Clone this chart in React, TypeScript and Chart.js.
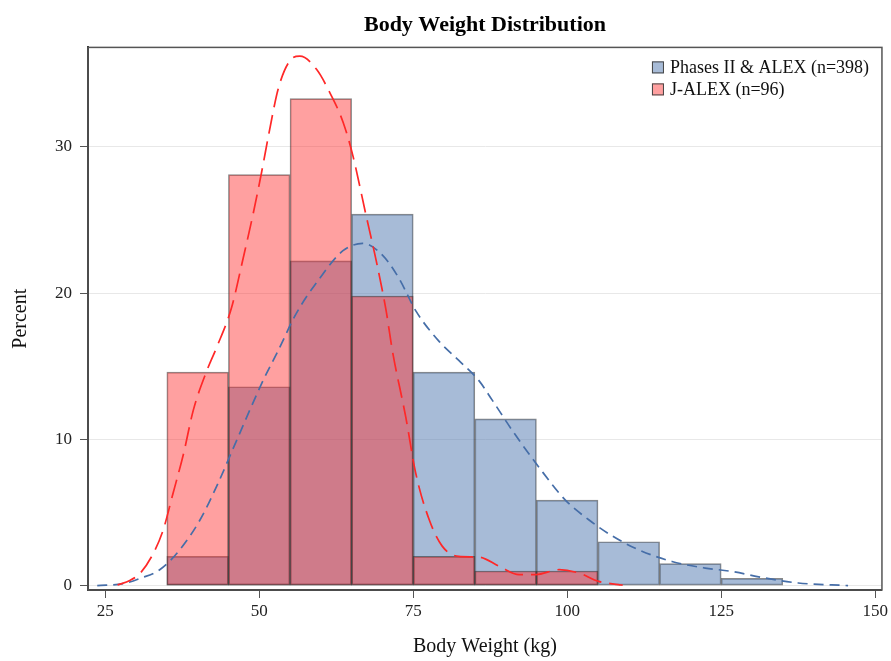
import React, { useEffect, useRef } from 'react';
import { Chart, registerables } from 'chart.js';

Chart.register(...registerables);

const chartTitle = 'Body Weight Distribution';
const xAxisTitle = 'Body Weight (kg)';
const yAxisTitle = 'Percent';
const seriesNames = ['Phases II & ALEX (n=398)', 'J-ALEX (n=96)'];

const xTicks = [25, 50, 75, 100, 125, 150];
const yTicks = [0, 10, 20, 30];

const phasesBinCenters = [40, 50, 60, 70, 80, 90, 100, 110, 120, 130];
const phasesPercent = [2.0, 13.6, 22.2, 25.4, 14.6, 11.4, 5.85, 3.0, 1.5, 0.5];

const jalexBinCenters = [40, 50, 60, 70, 80, 90, 100];
const jalexPercent = [14.6, 28.1, 33.3, 19.8, 2.0, 1.0, 1.0];

const phasesCurveX = [23.7, 28, 30.7, 33.9, 37.1, 40.4, 43.1, 46.3, 50.6, 53, 56, 59.8, 63.6, 66.8, 70, 72.7, 75.4, 79.2, 82.4, 85.7, 87.8, 91.1, 95.4, 99.7, 103.5, 107.3, 111.6, 117, 122.4, 126.7, 132.1, 137.5, 145.6];
const phasesCurveY = [0, 0.14, 0.5, 1.1, 2.45, 4.5, 6.8, 9.9, 14.0, 16.0, 18.6, 21.0, 22.9, 23.4, 22.6, 21.0, 18.8, 16.7, 15.4, 14.0, 12.7, 10.6, 8.1, 5.85, 4.5, 3.4, 2.45, 1.65, 1.2, 0.97, 0.52, 0.18, 0];

const jalexCurveX = [27, 29, 30.7, 32.8, 34.4, 36, 37.7, 39.3, 41.5, 43.1, 45.5, 47.4, 49, 50.4, 51.7, 53.1, 55, 56.6, 59.3, 61.7, 63.6, 65.2, 67.3, 69, 70.6, 71.6, 73.8, 75.4, 77.6, 79.7, 82.4, 85.7, 89, 92.2, 94.9, 98.7, 101.9, 105.1, 108.3, 109];
const jalexCurveY = [0.05, 0.35, 0.86, 2.2, 3.8, 6.3, 9.0, 12.0, 14.7, 16.3, 19.0, 22.4, 25.4, 28.3, 31.2, 34.0, 35.9, 36.2, 35.3, 33.5, 31.7, 29.4, 25.4, 22.2, 18.8, 16.1, 11.5, 7.7, 4.5, 2.7, 2.0, 1.95, 1.31, 0.75, 0.75, 1.09, 0.86, 0.29, 0.07, 0.03];

const FONT = "'Liberation Serif', 'Times New Roman', serif";
const BLUE_FILL = 'rgba(80,120,175,0.5)';
const RED_FILL = 'rgba(255,44,44,0.45)';
const BAR_BORDER = 'rgba(40,40,40,0.55)';
const BLUE_LINE = 'rgb(70,110,168)';
const RED_LINE = 'rgb(255,40,40)';

const legendFills = [BLUE_FILL, RED_FILL];

const frameAndLegend = {
  id: 'frameAndLegend',
  afterDraw(chart: any) {
    const { ctx, chartArea } = chart;
    ctx.save();
    ctx.strokeStyle = '#555';
    ctx.lineWidth = 1.5;
    ctx.strokeRect(chartArea.left, chartArea.top, chartArea.right - chartArea.left, chartArea.bottom - chartArea.top);
    ctx.font = `18px ${FONT}`;
    ctx.textBaseline = 'middle';
    ctx.textAlign = 'left';
    const sqX = chartArea.right - 230;
    const txtX = chartArea.right - 212;
    seriesNames.forEach((name, i) => {
      const cy = chartArea.top + 20 + i * 22;
      ctx.fillStyle = '#fff';
      ctx.fillRect(sqX, cy - 6, 12, 12);
      ctx.fillStyle = legendFills[i];
      ctx.fillRect(sqX, cy - 6, 12, 12);
      ctx.strokeStyle = '#444';
      ctx.lineWidth = 1;
      ctx.strokeRect(sqX + 0.5, cy - 5.5, 11, 11);
      ctx.fillStyle = '#111';
      ctx.fillText(name, txtX, cy + 1);
    });
    ctx.restore();
  },
};

export default function App() {
  const ref = useRef<HTMLCanvasElement | null>(null);
  useEffect(() => {
    if (!ref.current) return;
    const barCommon = {
      type: 'bar' as const,
      grouped: false,
      barPercentage: 1,
      categoryPercentage: 1,
      borderWidth: 1,
      borderColor: BAR_BORDER,
      borderSkipped: false,
    };
    const chart = new Chart(ref.current, {
      type: 'bar',
      data: {
        datasets: [
          {
            ...barCommon,
            label: seriesNames[0],
            data: phasesBinCenters.map((x, i) => ({ x, y: phasesPercent[i] })),
            backgroundColor: BLUE_FILL,
            order: 3,
          } as any,
          {
            ...barCommon,
            label: seriesNames[1],
            data: jalexBinCenters.map((x, i) => ({ x, y: jalexPercent[i] })),
            backgroundColor: RED_FILL,
            order: 2,
          } as any,
          {
            type: 'line',
            label: 'Phases density',
            data: phasesCurveX.map((x, i) => ({ x, y: phasesCurveY[i] })),
            borderColor: BLUE_LINE,
            borderWidth: 1.7,
            borderDash: [10, 6],
            pointRadius: 0,
            fill: false,
            cubicInterpolationMode: 'monotone',
            order: 1,
          } as any,
          {
            type: 'line',
            label: 'J-ALEX density',
            data: jalexCurveX.map((x, i) => ({ x, y: jalexCurveY[i] })),
            borderColor: RED_LINE,
            borderWidth: 1.7,
            borderDash: [19, 8],
            pointRadius: 0,
            fill: false,
            cubicInterpolationMode: 'monotone',
            order: 0,
          } as any,
        ],
      },
      options: {
        responsive: false,
        animation: false,
        layout: { padding: { left: 8, right: 7, top: 0, bottom: 0 } },
        plugins: {
          legend: { display: false },
          tooltip: { enabled: false },
          title: {
            display: true,
            text: chartTitle,
            fullSize: false,
            color: '#000',
            font: { family: FONT, size: 22, weight: 'bold' },
            padding: { top: 12, bottom: 9 },
          },
        },
        scales: {
          x: {
            type: 'linear',
            min: 22.2,
            max: 151.1,
            offset: false,
            afterBuildTicks: (s: any) => {
              s.ticks = xTicks.map((v) => ({ value: v }));
            },
            afterFit: (s: any) => {
              s.height = 71;
            },
            grid: { display: true, drawOnChartArea: false, drawTicks: true, tickLength: 8, tickColor: '#555', offset: false },
            border: { display: true, color: '#333', width: 2 },
            ticks: { color: '#222', font: { family: FONT, size: 17 }, padding: 3, maxRotation: 0, autoSkip: false, callback: (v: any) => String(v) },
            title: { display: true, text: xAxisTitle, color: '#111', font: { family: FONT, size: 20 }, padding: { top: 4, bottom: 2 } },
          },
          y: {
            type: 'linear',
            min: -0.3,
            max: 36.8,
            afterBuildTicks: (s: any) => {
              s.ticks = yTicks.map((v) => ({ value: v }));
            },
            afterFit: (s: any) => {
              s.width = 80;
            },
            grid: { display: true, color: '#e8e8e8', lineWidth: 1, drawTicks: true, tickLength: 8, tickColor: '#555' },
            border: { display: true, color: '#333', width: 2 },
            ticks: { color: '#222', font: { family: FONT, size: 17 }, padding: 8, callback: (v: any) => String(v) },
            title: { display: true, text: yAxisTitle, color: '#111', font: { family: FONT, size: 20 }, padding: { top: 1, bottom: 2 } },
          },
        },
      },
      plugins: [frameAndLegend],
    });
    return () => chart.destroy();
  }, []);
  return (
    <div style={{ position: 'absolute', left: 0, top: 0, width: 891, height: 661, background: '#fff' }}>
      <canvas ref={ref} width={891} height={661} style={{ display: 'block' }} />
    </div>
  );
}
